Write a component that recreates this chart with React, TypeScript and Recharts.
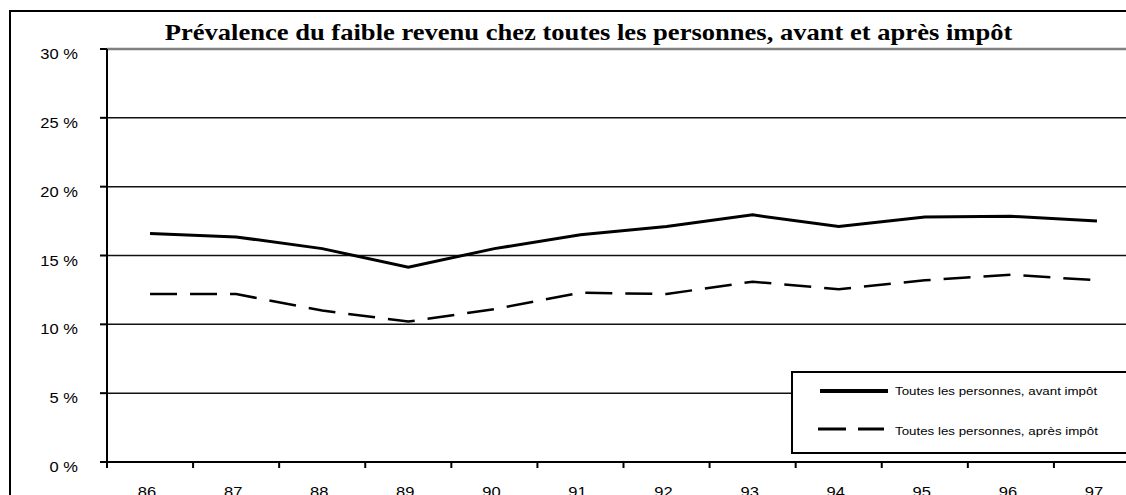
import React from 'react';
import { LineChart, Line, XAxis, YAxis, CartesianGrid, ReferenceLine, Legend } from 'recharts';

const years = ['86', '87', '88', '89', '90', '91', '92', '93', '94', '95', '96', '97'];
const avantImpot = [16.6, 16.35, 15.5, 14.15, 15.5, 16.5, 17.1, 17.95, 17.1, 17.8, 17.85, 17.5];
const apresImpot = [12.2, 12.2, 11.0, 10.2, 11.1, 12.3, 12.2, 13.1, 12.55, 13.2, 13.6, 13.2];
const yTicks = [0, 5, 10, 15, 20, 25, 30];
const seriesNames = ['Toutes les personnes, avant impôt', 'Toutes les personnes, après impôt'];
const title = 'Prévalence du faible revenu chez toutes les personnes, avant et après impôt';

const data = years.map((y, i) => ({ year: y, avant: avantImpot[i], apres: apresImpot[i] }));

const CHART_W = 1160;
const CHART_H = 495;
const MARGIN = { top: 49, right: 20, left: 0, bottom: 0 };
const Y_AXIS_W = 107;
const PLOT_W = CHART_W - MARGIN.left - MARGIN.right - Y_AXIS_W;
const BAND = PLOT_W / years.length;
const SX = 1.18;
const SANS = "'Liberation Sans', Arial, sans-serif";

const YTick = (props: any) => {
  const { x, y, payload } = props;
  return (
    <text
      transform={`translate(${x},${y + 10}) scale(${SX},1)`}
      textAnchor="end"
      fontFamily={SANS}
      fontSize={14}
      fill="#000"
    >
      {`${payload.value} %`}
    </text>
  );
};

const XTick = (props: any) => {
  const { x, y, payload } = props;
  const bx = x - BAND / 2;
  return (
    <g>
      <line x1={bx} x2={bx} y1={y} y2={y + 6} stroke="#000" strokeWidth={2} />
      <text
        transform={`translate(${x - 3},${y + 35}) scale(${SX},1)`}
        textAnchor="middle"
        fontFamily={SANS}
        fontSize={14}
        fill="#000"
      >
        {payload.value}
      </text>
    </g>
  );
};

const renderLegend = () => (
  <div
    style={{
      width: 400,
      height: 83,
      border: '2px solid #000',
      background: '#fff',
      boxSizing: 'border-box',
      position: 'relative',
    }}
  >
    <svg width={396} height={79} style={{ position: 'absolute', left: 0, top: 0 }}>
      <line x1={27} x2={95} y1={18} y2={18} stroke="#000" strokeWidth={4} />
      <text transform={`translate(102,22) scale(${SX},1)`} fontFamily={SANS} fontSize={11.3} fill="#000">
        {seriesNames[0]}
      </text>
      <line x1={25} x2={91} y1={56} y2={56} stroke="#000" strokeWidth={3} strokeDasharray="28 12" />
      <text transform={`translate(102,62) scale(${SX},1)`} fontFamily={SANS} fontSize={11.3} fill="#000">
        {seriesNames[1]}
      </text>
    </svg>
  </div>
);

export default function App() {
  return (
    <div
      style={{
        position: 'absolute',
        left: 0,
        top: 0,
        width: 1126,
        height: 495,
        overflow: 'hidden',
        background: '#fff',
      }}
    >
      <div
        style={{
          position: 'absolute',
          left: 9,
          top: 10,
          width: 1300,
          height: 700,
          border: '2px solid #000',
          boxSizing: 'border-box',
        }}
      />
      <div
        style={{
          position: 'absolute',
          left: 0,
          top: 22,
          width: 1177,
          textAlign: 'center',
          fontFamily: "'Liberation Serif', 'Times New Roman', serif",
          fontWeight: 'bold',
          fontSize: 22.5,
          lineHeight: 1,
          whiteSpace: 'nowrap',
          transform: `scaleX(${SX})`,
          transformOrigin: '588.5px 0',
          color: '#000',
        }}
      >
        {title}
      </div>
      <div style={{ position: 'absolute', left: 0, top: 0 }}>
        <LineChart width={CHART_W} height={CHART_H} data={data} margin={MARGIN}>
          <CartesianGrid vertical={false} stroke="#111" strokeWidth={1.5} />
          <ReferenceLine y={30} stroke="#808080" strokeWidth={2.5} />
          <XAxis
            dataKey="year"
            height={33}
            padding={{ left: BAND / 2, right: BAND / 2 }}
            axisLine={{ stroke: '#000', strokeWidth: 2 }}
            tickLine={false}
            tickSize={0}
            tickMargin={0}
            tick={<XTick />}
            interval={0}
          />
          <YAxis
            domain={[0, 30]}
            ticks={yTicks}
            width={Y_AXIS_W}
            axisLine={{ stroke: '#000', strokeWidth: 2 }}
            tickLine={{ stroke: '#000', strokeWidth: 2 }}
            tickSize={7}
            tickMargin={22}
            tick={<YTick />}
            interval={0}
          />
          <Legend
            layout="horizontal"
            verticalAlign="middle"
            align="center"
            content={renderLegend}
            wrapperStyle={{ left: 791, top: 371, width: 400, height: 83 }}
          />
          <Line
            type="linear"
            dataKey="avant"
            name={seriesNames[0]}
            stroke="#000"
            strokeWidth={3}
            dot={false}
            isAnimationActive={false}
          />
          <Line
            type="linear"
            dataKey="apres"
            name={seriesNames[1]}
            stroke="#000"
            strokeWidth={2.5}
            strokeDasharray="27 13"
            dot={false}
            isAnimationActive={false}
          />
        </LineChart>
      </div>
    </div>
  );
}
